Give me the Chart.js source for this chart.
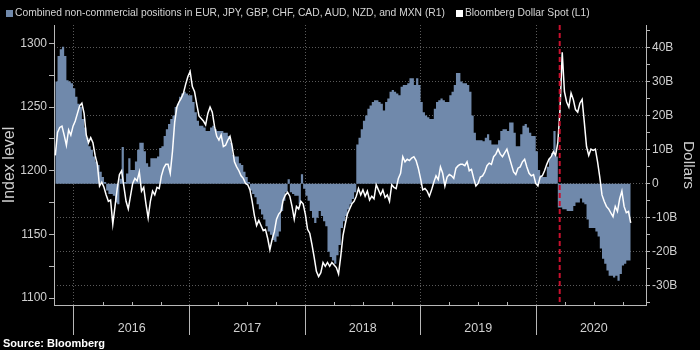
<!DOCTYPE html>
<html>
<head>
<meta charset="utf-8">
<title>Bloomberg Dollar Spot vs non-commercial positions</title>
<script src="https://cdn.jsdelivr.net/npm/chart.js@4.4.1/dist/chart.umd.min.js"></script>
<style>
  html, body { margin: 0; background: #000; }
  #wrap { position: relative; width: 700px; height: 350px; background: #000; font-family: 'Liberation Sans', Arial, sans-serif; }
  .legend { position: absolute; left: 6px; top: 7px; display: flex; align-items: center; font-size: 10.3px; line-height: 12px; color: #d4d4d4; white-space: nowrap; }
  .legend .item { display: flex; align-items: center; margin-right: 11px; }
  .legend .box { width: 7px; height: 7px; margin-right: 2px; }
  .source { position: absolute; left: 3px; top: 337px; font-size: 11px; font-weight: bold; color: #fff; }
</style>
</head>
<body>
<div id="wrap">
  <canvas id="chart" width="700" height="350"></canvas>
  <div class="legend">
    <span class="item"><span class="box" style="background:#7089ab"></span>Combined non-commercial positions in EUR, JPY, GBP, CHF, CAD, AUD, NZD, and MXN (R1)</span>
    <span class="item"><span class="box" style="background:#fff"></span>Bloomberg Dollar Spot (L1)</span>
  </div>
  <div class="source">Source: Bloomberg</div>
</div>
<script>
// weekly readings, first week 2015-11-03
const firstWeek = '2015-11-03'

// combined non-commercial positions, USD billions (right axis)
const positions = [
  24, 30, 37.5, 39.5, 40.2, 37.5, 30.4, 30, 29.5, 28,
  25.5, 23.5, 22.5, 19, 16.5, 13.5, 11, 10, 8, 6.5,
  5.5, 3.5, 2, 0.5, -2, -3, -3, -3.5, -5.5, -6,
  1.5, 10.8, 0.5, 3, 7.5, 4, 4, 6.5, 10, 12,
  12, 9.5, 6, 5, 7.5, 7.5, 7.5, 8, 10.5, 11,
  14, 16, 17.5, 19, 20, 22.5, 23.5, 25.5, 26.5, 27,
  26.5, 26, 26, 24, 21, 18.5, 17, 17, 16.5, 15.5,
  15.5, 16.5, 17, 16, 15.5, 15.5, 15.5, 15, 15, 14,
  12, 8.5, 8, 8, 6, 5.5, 3.5, 2, 0.5, -2,
  -3, -4, -6, -7.5, -9, -10.5, -12.5, -14, -15, -16.5,
  -17, -15.5, -14, -8, -5, -2.5, 1.3, -2.5, -3, -3.5,
  -3.5, -6, 2.8, -1.5, -3.5, -5, -8, -10, -11.5, -10,
  -8, -9.5, -11, -12.5, -20, -21.5, -22.5, -23.5, -21, -18,
  -13, -11, -9.5, -7.5, -6, -4.5, -2.5, 11.5, 13.5, 16,
  18.5, 20, 22, 23, 24, 24.5, 24.5, 24, 23.5, 21.5,
  24, 25, 27, 27.5, 27, 26.5, 26, 28.5, 29, 29,
  29.5, 31, 31, 29, 31, 29, 24, 21, 20, 19.5,
  19, 19, 22, 24, 24.5, 25, 24.5, 24, 24, 26,
  27, 29, 32.5, 32.5, 30, 29.5, 29.5, 29, 27, 20,
  15, 12.8, 12.8, 12.8, 12.5, 13.5, 14.5, 12.8, 11.5, 11.5,
  11.5, 12.8, 15.5, 16, 16, 15.5, 18, 18, 15, 11,
  11, 14.5, 17, 17.5, 16.5, 15, 14, 14, 9.5, 4,
  2.5, 2, 2, 5, 7.5, 9, 15.5, 8, -7, -7,
  -7.5, -7.5, -8, -8, -8, -6.5, -5.5, -5.5, -4.3, -5.5,
  -6, -10.5, -13, -13, -13, -14, -15.5, -19, -22, -23.5,
  -25.5, -27, -27, -27.5, -27, -28.5, -26.5, -24, -23.5, -22.5, -22.5
]

// Bloomberg Dollar Spot index (left axis)
const dollarSpot = [
  1212, 1230, 1234, 1235, 1228, 1220, 1232, 1228, 1235, 1239,
  1245, 1251, 1253, 1245, 1228, 1222, 1226, 1222, 1212, 1205,
  1188, 1191, 1187, 1181, 1176, 1177, 1158, 1172, 1186, 1197,
  1200, 1188, 1176, 1170, 1180, 1190, 1194, 1192, 1199, 1184,
  1187, 1174, 1163, 1176, 1184, 1181, 1187, 1186, 1196, 1202,
  1205, 1205, 1198, 1215, 1238, 1250, 1254, 1257, 1261, 1268,
  1274, 1278, 1266, 1262, 1252, 1243, 1241, 1239, 1236, 1245,
  1250, 1246, 1235, 1227, 1224, 1228, 1219, 1220, 1224, 1227,
  1219, 1207, 1203, 1200, 1196, 1194, 1190, 1189, 1185, 1176,
  1165, 1157, 1161, 1157, 1153, 1154, 1147, 1138, 1146, 1152,
  1162, 1166, 1168, 1177, 1181, 1183, 1180, 1172, 1162, 1172,
  1170, 1176, 1174, 1166, 1154, 1151, 1142, 1132, 1121, 1117,
  1120, 1128, 1125, 1128, 1125, 1128, 1126, 1124, 1119, 1133,
  1149, 1158, 1166, 1170, 1174, 1176, 1180, 1186, 1181, 1185,
  1180, 1184, 1177, 1180, 1178, 1189, 1185, 1181, 1185, 1179,
  1181, 1176, 1189, 1187, 1186, 1194, 1198, 1211, 1207, 1209,
  1208, 1210, 1211, 1208, 1202, 1194, 1185, 1186, 1184, 1180,
  1185, 1191, 1196, 1193, 1203, 1198, 1188, 1195, 1197, 1196,
  1194, 1202, 1204, 1205, 1205, 1204, 1207, 1200, 1201, 1194,
  1188, 1190, 1195, 1196, 1199, 1204, 1206, 1205, 1211, 1213,
  1217, 1213, 1211, 1214, 1217, 1211, 1205, 1199, 1197, 1202,
  1203, 1207, 1209, 1203, 1198, 1196, 1197, 1190, 1188, 1195,
  1196, 1200, 1205, 1209, 1211, 1215, 1212, 1222, 1248, 1293,
  1262, 1254, 1250, 1261, 1256, 1248, 1246, 1253, 1256, 1238,
  1219, 1212, 1217, 1216, 1217, 1207, 1195, 1181, 1176, 1172,
  1170, 1167, 1164, 1172, 1168, 1178, 1184, 1172, 1167, 1168, 1159
]

const years = [2016, 2017, 2018, 2019, 2020]
const yearLabels = ['2016', '2017', '2018', '2019', '2020']
const leftTicks = [1100, 1150, 1200, 1250, 1300]
const leftLabels = ['1100', '1150', '1200', '1250', '1300']
const rightTicks = [-30, -20, -10, 0, 10, 20, 30, 40]
const rightLabels = ['-30B', '-20B', '-10B', '0', '10B', '20B', '30B', '40B']
const markerDate = '2020-03-16'

function yearFrac(d) {
  const y = d.getUTCFullYear()
  const start = Date.UTC(y, 0, 1)
  const end = Date.UTC(y + 1, 0, 1)
  return y + (d.getTime() - start) / (end - start)
}

const start = new Date(firstWeek + 'T00:00:00Z')
const weeks = positions.map((_, i) => new Date(start.getTime() + i * 7 * 86400000))
const weekX = weeks.map(yearFrac)

const labelColor = '#d0d0d0'
const axisColor = '#b8b8b8'
const gridColor = '#5a5a5a'
const font = 'Liberation Sans, Arial, sans-serif'

// tick sets (majors plus the unlabeled halfway marks)
const xTicks = []
years.forEach(y => { xTicks.push(y, y + 0.5) })
const leftAll = []
leftTicks.forEach((v, i) => { leftAll.push(v); if (i < leftTicks.length - 1) leftAll.push((v + leftTicks[i + 1]) / 2) })
const rightAll = [rightTicks[0] - 5]
rightTicks.forEach(v => { rightAll.push(v, v + 5) })

const fixBox = (w, h) => scale => {
  if (w) scale.width = w
  if (h) scale.height = h
  scale.paddingTop = 0
  scale.paddingBottom = 0
  scale.paddingLeft = 0
  scale.paddingRight = 0
}

const extras = {
  id: 'extras',
  afterDatasetsDraw(chart) {
    const { ctx, chartArea, scales } = chart
    ctx.save()
    // quarter marks on the date axis
    ctx.strokeStyle = axisColor
    ctx.lineWidth = 1
    years.forEach(y => {
      [0.25, 0.5, 0.75].forEach(q => {
        const px = Math.round(scales.x.getPixelForValue(y + q)) + 0.5
        ctx.beginPath()
        ctx.moveTo(px, chartArea.bottom)
        ctx.lineTo(px, chartArea.bottom - 3)
        ctx.stroke()
      })
    })
    // red dashed marker
    const mx = scales.x.getPixelForValue(yearFrac(new Date(markerDate + 'T00:00:00Z')))
    ctx.strokeStyle = '#c8102e'
    ctx.lineWidth = 2
    ctx.setLineDash([5, 3])
    ctx.beginPath()
    ctx.moveTo(mx, chartArea.top)
    ctx.lineTo(mx, chartArea.bottom - 2)
    ctx.stroke()
    ctx.restore()
  }
}

new Chart(document.getElementById('chart'), {
  type: 'line',
  data: {
    datasets: [
      {
        label: 'Combined non-commercial positions (R1)',
        data: weekX.map((x, i) => ({ x, y: positions[i] })),
        yAxisID: 'yR',
        stepped: 'after',
        fill: 'origin',
        backgroundColor: '#7089ab',
        borderColor: '#7089ab',
        borderWidth: 0,
        pointRadius: 0,
        order: 2
      },
      {
        label: 'Bloomberg Dollar Spot (L1)',
        data: weekX.map((x, i) => ({ x, y: dollarSpot[i] })),
        yAxisID: 'yL',
        borderColor: '#ffffff',
        borderWidth: 1.5,
        pointRadius: 0,
        tension: 0,
        fill: false,
        order: 1
      }
    ]
  },
  options: {
    responsive: false,
    animation: false,
    layout: { padding: { top: 25, left: 0, right: 0, bottom: 0 } },
    plugins: {
      legend: { display: false },
      tooltip: { enabled: false }
    },
    scales: {
      x: {
        type: 'linear',
        position: 'bottom',
        min: 2015.827,
        max: 2020.952,
        afterBuildTicks: s => { s.ticks = xTicks.map(v => ({ value: v })) },
        afterFit: fixBox(0, 45),
        ticks: {
          autoSkip: false,
          maxRotation: 0,
          padding: -14,
          color: labelColor,
          font: { family: font, size: 12.5 },
          callback: v => Number.isInteger(v) ? '' : yearLabels[years.indexOf(Math.floor(v))]
        },
        grid: {
          color: c => c.tick && Number.isInteger(c.tick.value) ? gridColor : 'transparent',
          tickColor: c => c.tick && Number.isInteger(c.tick.value) ? axisColor : 'transparent',
          tickLength: 30,
          lineWidth: 1
        },
        border: { display: true, color: axisColor, dash: [1, 2] }
      },
      yL: {
        type: 'linear',
        position: 'left',
        min: 1094.6,
        max: 1314.4,
        afterBuildTicks: s => { s.ticks = leftAll.map(v => ({ value: v })) },
        afterFit: fixBox(54, 0),
        ticks: {
          autoSkip: false,
          padding: 2,
          color: labelColor,
          font: { family: font, size: 12 },
          callback: v => { const i = leftTicks.indexOf(v); return i >= 0 ? leftLabels[i] : '' }
        },
        grid: { drawOnChartArea: false, tickLength: 5, tickColor: axisColor },
        border: { display: true, color: axisColor },
        title: { display: true, text: 'Index level', color: labelColor, font: { family: font, size: 16 }, padding: 0 }
      },
      yR: {
        type: 'linear',
        position: 'right',
        min: -35.6,
        max: 46.6,
        afterBuildTicks: s => { s.ticks = rightAll.map(v => ({ value: v })) },
        afterFit: fixBox(54, 0),
        ticks: {
          autoSkip: false,
          padding: 2,
          color: labelColor,
          font: { family: font, size: 12 },
          callback: v => { const i = rightTicks.indexOf(v); return i >= 0 ? rightLabels[i] : '' }
        },
        grid: {
          color: c => c.tick && rightTicks.includes(c.tick.value) ? gridColor : 'transparent',
          tickColor: axisColor,
          tickLength: 4,
          lineWidth: 1
        },
        border: { display: true, color: axisColor, dash: [1, 2] },
        title: { display: true, text: 'Dollars', color: labelColor, font: { family: font, size: 15.5 }, padding: { top: 2, bottom: 0 } }
      }
    }
  },
  plugins: [extras]
})
</script>
</body>
</html>
